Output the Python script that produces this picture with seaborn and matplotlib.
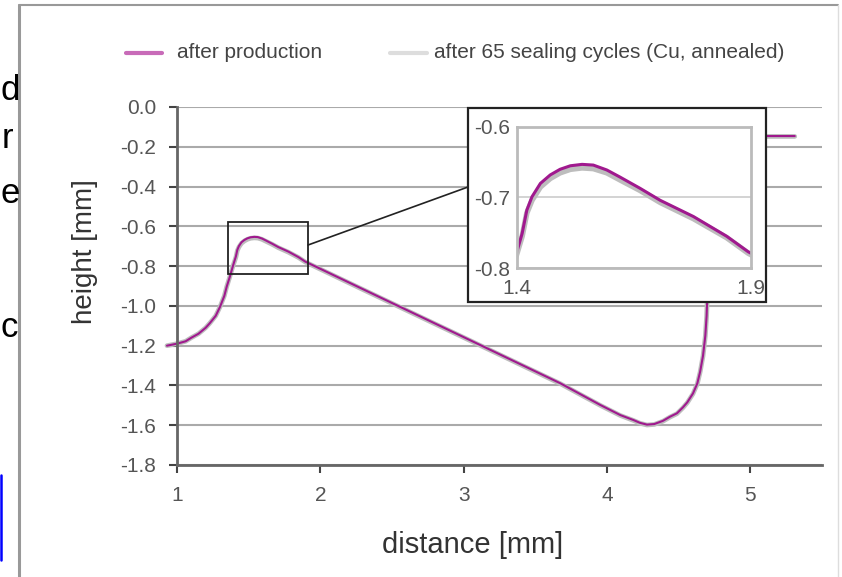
import numpy as np
import pandas as pd
import matplotlib
matplotlib.use("Agg")
import matplotlib.pyplot as plt
from matplotlib.patches import Rectangle, ConnectionPatch
from matplotlib.lines import Line2D
import seaborn as sns

# ---------------- data ----------------
dist_production = [0.93, 1.0, 1.06, 1.1, 1.15, 1.2, 1.23, 1.27, 1.30, 1.33, 1.347, 1.37, 1.39,
                   1.401, 1.411, 1.421, 1.432, 1.45, 1.471, 1.492, 1.514, 1.539, 1.563,
                   1.592, 1.62, 1.663, 1.706, 1.777, 1.848, 1.894, 2.28,
                   3.0, 3.674, 3.953, 4.093, 4.185, 4.23, 4.279, 4.33, 4.39, 4.44, 4.488,
                   4.53, 4.56, 4.60, 4.63, 4.65, 4.67, 4.686, 4.695, 4.70,
                   4.705, 4.71, 4.72, 4.75, 5.31]
height_production = [-1.20, -1.19, -1.178, -1.16, -1.14, -1.11, -1.086, -1.05, -1.005, -0.95,
                     -0.903, -0.85, -0.80,
                     -0.774, -0.751, -0.718, -0.699, -0.680, -0.668, -0.660, -0.655, -0.653,
                     -0.654, -0.661, -0.671, -0.687, -0.704, -0.727, -0.755, -0.777, -0.91,
                     -1.157, -1.389, -1.498, -1.549, -1.574, -1.588, -1.597, -1.594, -1.578,
                     -1.557, -1.54,
                     -1.51, -1.485, -1.44, -1.39, -1.33, -1.25, -1.15, -1.05, -0.95,
                     -0.7, -0.4, -0.16, -0.146, -0.146]
dist_cycles = dist_production
height_cycles = [-1.20, -1.19, -1.178, -1.16, -1.14, -1.11, -1.086, -1.05, -1.005, -0.95,
                 -0.903, -0.85, -0.80,
                 -0.777, -0.755, -0.722, -0.704, -0.685, -0.673, -0.665, -0.660, -0.658,
                 -0.659, -0.665, -0.675, -0.690, -0.707, -0.730, -0.757, -0.779, -0.912,
                 -1.159, -1.391, -1.500, -1.551, -1.576, -1.590, -1.599, -1.596, -1.580,
                 -1.559, -1.542,
                 -1.512, -1.487, -1.442, -1.392, -1.332, -1.252, -1.152, -1.052, -0.952,
                 -0.7, -0.4, -0.16, -0.148, -0.148]

series_names = ["after production", "after 65 sealing cycles (Cu, annealed)"]
y_ticks = [0.0, -0.2, -0.4, -0.6, -0.8, -1.0, -1.2, -1.4, -1.6, -1.8]
x_ticks = [1, 2, 3, 4, 5]
inset_x_ticks = [1.4, 1.9]
inset_y_ticks = [-0.6, -0.7, -0.8]

df_prod = pd.DataFrame({"distance": dist_production, "height": height_production})
df_cyc = pd.DataFrame({"distance": dist_cycles, "height": height_cycles})

# ---------------- style ----------------
sns.set_theme(style="white")
plt.rcParams["font.family"] = ["Liberation Sans", "DejaVu Sans"]

W, H = 842, 577
fig = plt.figure(figsize=(W / 100, H / 100), dpi=100)
fig.patch.set_facecolor("white")

def fx(px):
    return px / W

def fy(py):
    return 1 - py / H

MAGENTA = "#a0198e"
GRAY = "#bdbdbd"

# ---------------- main axes ----------------
ax = fig.add_axes([fx(177), fy(465), fx(822) - fx(177), fy(107) - fy(465)])
ax.set_zorder(0)
sns.lineplot(data=df_cyc, x="distance", y="height", sort=False, estimator=None,
             color=GRAY, lw=3.4, ax=ax, clip_on=False)
sns.lineplot(data=df_prod, x="distance", y="height", sort=False, estimator=None,
             color=MAGENTA, lw=1.5, ax=ax, clip_on=False)
ax.set_xlim(1, 5.5)
ax.set_ylim(-1.8, 0.0)
ax.set_yticks(y_ticks)
ax.set_yticklabels([f"{v:.1f}" for v in y_ticks])
ax.set_xticks(x_ticks)
ax.set_xticklabels([str(v) for v in x_ticks])
ax.yaxis.grid(True, color="#aaaaaa", lw=1.5)
ax.xaxis.grid(False)
ax.set_axisbelow(True)
for s in ["top", "right"]:
    ax.spines[s].set_visible(False)
for s in ["left", "bottom"]:
    ax.spines[s].set_color("#666666")
    ax.spines[s].set_linewidth(2)
ax.tick_params(axis="both", direction="out", length=6, width=1.5, color="#444444",
               labelsize=15, labelcolor="#555555", left=True, bottom=True)
ax.tick_params(axis="y", pad=9)
ax.tick_params(axis="x", pad=9)
ax.set_xlabel("distance [mm]", fontsize=21, color="#333333")
ax.set_ylabel("height [mm]", fontsize=20, color="#333333")
ax.xaxis.set_label_coords(0.459, -0.185)
ax.yaxis.set_label_coords(-0.122, 0.595)

# zoom rectangle
ax.add_patch(Rectangle((1.356, -0.84), 0.558, 0.262, fill=False, ec="#222222", lw=1.3, zorder=3))

# inset frame
frame = Rectangle((fx(468), fy(302)), fx(766) - fx(468), fy(108) - fy(302),
                  transform=fig.transFigure, fc="white", ec="#222222", lw=1.6, zorder=1)
fig.add_artist(frame)
con = ConnectionPatch(xyA=(1.914, -0.694), coordsA=ax.transData,
                      xyB=(fx(468), fy(187)), coordsB=fig.transFigure,
                      color="#222222", lw=1.2, zorder=1)
fig.add_artist(con)

# ---------------- inset axes ----------------
ax2 = fig.add_axes([fx(517), fy(268), fx(751) - fx(517), fy(127) - fy(268)])
ax2.set_zorder(2)
ax2.set_facecolor("white")
sns.lineplot(data=df_cyc, x="distance", y="height", sort=False, estimator=None,
             color=GRAY, lw=4, ax=ax2)
sns.lineplot(data=df_prod, x="distance", y="height", sort=False, estimator=None,
             color=MAGENTA, lw=2.2, ax=ax2)
ax2.set_xlim(1.4, 1.9)
ax2.set_ylim(-0.8, -0.6)
ax2.set_xticks(inset_x_ticks)
ax2.set_xticklabels([f"{v:.1f}" for v in inset_x_ticks])
ax2.set_yticks(inset_y_ticks)
ax2.set_yticklabels([f"{v:.1f}" for v in inset_y_ticks])
ax2.yaxis.grid(True, color="#cccccc", lw=1.2)
ax2.xaxis.grid(False)
ax2.set_axisbelow(True)
for s in ax2.spines.values():
    s.set_color("#bbbbbb")
    s.set_linewidth(2)
ax2.tick_params(axis="both", length=0, labelsize=15, labelcolor="#555555")
ax2.tick_params(axis="y", pad=5)
ax2.tick_params(axis="x", pad=8)
ax2.set_xlabel("")
ax2.set_ylabel("")

# ---------------- legend ----------------
fig.add_artist(Line2D([fx(126), fx(162)], [fy(53), fy(53)], transform=fig.transFigure,
                      color="#c86bb8", lw=3))
fig.text(fx(177), fy(53), series_names[0], ha="left", va="center", fontsize=15, color="#444444")
fig.add_artist(Line2D([fx(390), fx(427)], [fy(53), fy(53)], transform=fig.transFigure,
                      color="#dddddd", lw=3))
fig.text(fx(434), fy(53), series_names[1], ha="left", va="center", fontsize=15, color="#444444")

# ---------------- slide remnants ----------------
for ch, xl, yb in [("d", 1, 100), ("r", 2, 148), ("e", 1, 203), ("c", 1, 337)]:
    fig.text(fx(xl), fy(yb), ch, ha="left", va="baseline", fontsize=25, color="black")
fig.add_artist(Line2D([fx(1), fx(1)], [fy(475), fy(560)], transform=fig.transFigure,
                      color="#0000ff", lw=1.8))
fig.add_artist(Line2D([fx(19), fx(19)], [fy(5), fy(577)], transform=fig.transFigure,
                      color="#999999", lw=2.2))
fig.add_artist(Line2D([fx(19), fx(838)], [fy(5), fy(5)], transform=fig.transFigure,
                      color="#999999", lw=1.5))
fig.add_artist(Line2D([fx(838), fx(838)], [fy(5), fy(577)], transform=fig.transFigure,
                      color="#dddddd", lw=1))

fig.savefig("out.png", dpi=100)
